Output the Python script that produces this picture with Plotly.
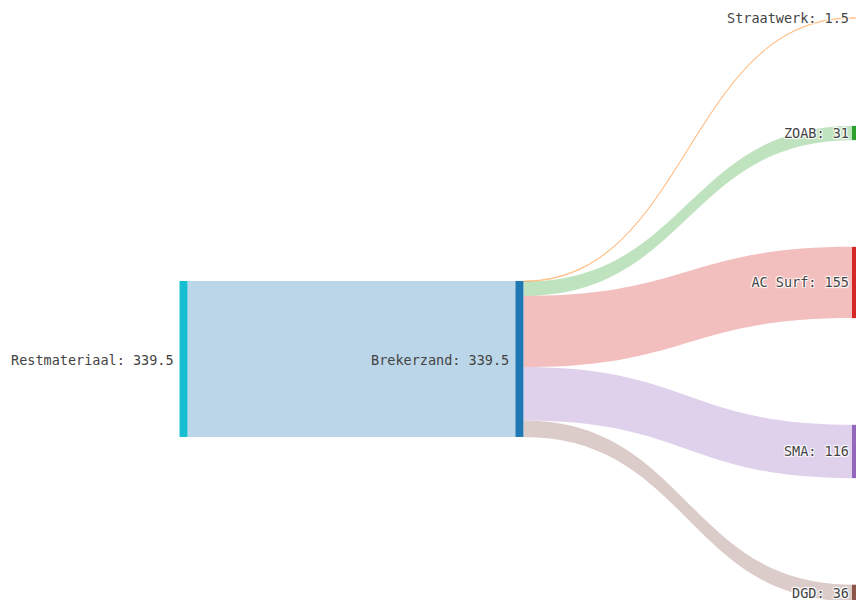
import plotly.graph_objects as go

node_names = ["Restmateriaal", "Brekerzand", "Straatwerk", "ZOAB", "AC Surf", "SMA", "DGD"]
node_totals = [339.5, 339.5, 1.5, 31, 155, 116, 36]
node_colors = ["#17becf", "#1f77b4", "#ff7f0e", "#2ca02c", "#d62728", "#9467bd", "#8c564b"]
node_x = [1.072, 3.034, 5.0, 5.0, 5.0, 5.0, 5.0]
node_y = [0.767, 0.767, 0.0385, 0.2842, 0.6036, 0.9647, 1.267]

link_source = [0, 1, 1, 1, 1, 1]
link_target = [1, 2, 3, 4, 5, 6]
link_value = [339.5, 1.5, 31, 155, 116, 36]

DOMAIN_X = [0, 0.2]
DOMAIN_Y = [0.22, 1.0]
THICKNESS = 8
FONT = dict(family="DejaVu Sans Mono", size=13.5, color="#444")


def rgba(hex_color, a):
    h = hex_color.lstrip("#")
    r, g, b = int(h[0:2], 16), int(h[2:4], 16), int(h[4:6], 16)
    return f"rgba({r},{g},{b},{a})"


labels = [f"{n}: {v:g}" for n, v in zip(node_names, node_totals)]
link_colors = [rgba(node_colors[t], 0.3) for t in link_target]

# plotly only puts the last column's labels on the left of the node;
# the other labels are drawn as annotations on the left side of their node.
is_last_column = [x == max(node_x) for x in node_x]
sankey_labels = [lab if last else "" for lab, last in zip(labels, is_last_column)]

fig = go.Figure(go.Sankey(
    arrangement="fixed",
    domain=dict(x=DOMAIN_X, y=DOMAIN_Y),
    node=dict(
        label=sankey_labels,
        color=node_colors,
        x=node_x,
        y=node_y,
        pad=120,
        thickness=THICKNESS,
        line=dict(width=0),
    ),
    link=dict(
        source=link_source,
        target=link_target,
        value=link_value,
        color=link_colors,
    ),
    textfont=FONT,
))

dw = DOMAIN_X[1] - DOMAIN_X[0]
dh = DOMAIN_Y[1] - DOMAIN_Y[0]
for lab, nx, ny, last in zip(labels, node_x, node_y, is_last_column):
    if last:
        continue
    fig.add_annotation(
        x=DOMAIN_X[0] + nx * dw,
        y=DOMAIN_Y[1] - ny * dh,
        xref="paper", yref="paper",
        text=lab,
        showarrow=False,
        xanchor="right", yanchor="middle",
        xshift=-(THICKNESS / 2 + 4),
        yshift=-1,
        font=FONT,
    )

fig.update_layout(
    width=856,
    height=600,
    margin=dict(l=0, r=0, t=0, b=0),
    paper_bgcolor="white",
    plot_bgcolor="white",
)

fig.write_html(
    "out.html",
    config={"displayModeBar": False},
    post_script="document.body.style.margin='0px';",
)
